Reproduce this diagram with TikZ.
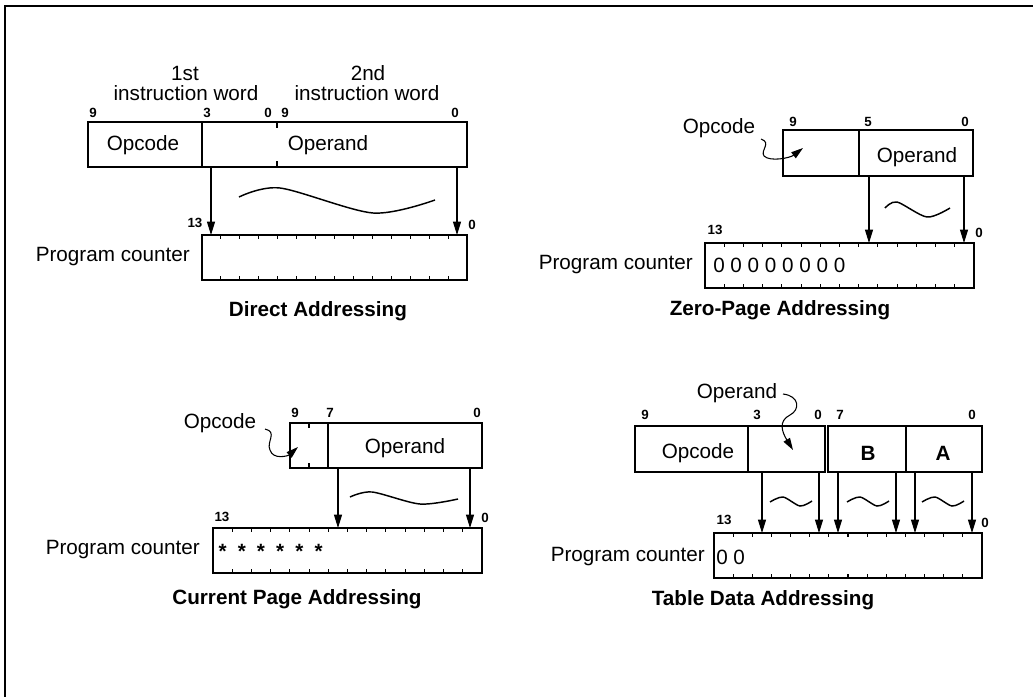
\documentclass[tikz,border=0pt]{standalone}
\usepackage{fontspec}
\setmainfont{Liberation Sans}
\usetikzlibrary{arrows.meta}

% 14-cell program counter register with tick marks
\newcommand{\pcreg}[3]{%
  \draw[reg] (#1,#2) rectangle (#3,#2+45);
  \foreach \k in {1,...,13}
    \draw[tick] ({#1+\k*(#3-#1)/14},#2) -- ++(0,4)
                ({#1+\k*(#3-#1)/14},#2+45) -- ++(0,-4);
}

\begin{document}
\begin{tikzpicture}[
  x=0.75pt, y=-0.75pt,
  txt/.style={inner sep=0pt,font=\fontsize{15.5}{18}\selectfont},
  bit/.style={inner sep=0pt,font=\fontsize{10}{11}\selectfont\bfseries},
  ttl/.style={inner sep=0pt,font=\fontsize{15.5}{18}\selectfont\bfseries},
  reg/.style={draw,line width=1.5pt},
  tick/.style={line width=0.8pt},
  arr/.style={-{Triangle[length=10pt,width=6pt]},line width=0.8pt},
  ptr/.style={-{Triangle[length=9pt,width=5.5pt]},line width=0.8pt},
  wave/.style={line width=1.1pt}
]
\useasboundingbox (0,0) rectangle (1033,697);
\draw[line width=1.5pt] (5,697) -- (5,6) -- (1033,6);

% Direct Addressing
\node[txt] (w1) at (185,73) {1st};
\node[txt] (w1b) at (186,93) {instruction word};
\node[txt] (w2) at (368,73) {2nd};
\node[txt] (w2b) at (367,93) {instruction word};
\foreach \x/\b [count=\i] in {93/9,207/3,268/0,285/9,455/0}
  \node[bit] (da\i) at (\x,113) {\b};
\draw[reg] (88,122) rectangle (467,167);
\draw[reg] (202,122) -- (202,167);
\draw[tick] (277,122) -- ++(0,6) (277,167) -- ++(0,-6);
\node[txt] (op1) at (143,145) {Opcode};
\node[txt] (od1) at (328,145) {Operand};
\pcreg{202}{235}{467}
\node[bit] (dh1) at (195,223) {13};
\node[bit] (dl1) at (472,225) {0};
\node[txt,anchor=east] (pc1) at (190,257) {Program counter};
\foreach \x [count=\i] in {211,457} {
  \coordinate (da\i) at (\x,167);
  \coordinate (db\i) at (\x,235);
  \draw[arr] (da\i) -- (db\i);
}
\draw[wave] plot[smooth] coordinates {(239,197) (280,188) (373,213) (435,200)};
\node[ttl] (t1) at (318,311) {Direct Addressing};

% Zero-Page Addressing
\node[txt] (op2) at (719,128) {Opcode};
\foreach \x/\b [count=\i] in {793/9,868/5,965/0}
  \node[bit] (za\i) at (\x,122) {\b};
\draw[reg] (783,130) rectangle (973,176);
\draw[reg] (859,130) -- (859,176);
\node[txt] (od2) at (917,157) {Operand};
\coordinate (zp) at (761,139);
\coordinate (zq) at (803,148);
\draw[ptr] (zp) .. controls (772,143) and (760,150) .. (764,156)
  .. controls (770,162) and (790,158) .. (zq);
\pcreg{705}{243}{974}
\node[bit] (zh) at (715,230) {13};
\node[bit] (zl) at (979,233) {0};
\node[txt,anchor=east] (pc2) at (693,265) {Program counter};
\node[txt,anchor=west] (zz) at (713,265) {0 0 0 0 0 0 0 0};
\foreach \x [count=\i] in {869,964} {
  \coordinate (za\i) at (\x,176);
  \coordinate (zb\i) at (\x,243);
  \draw[arr] (za\i) -- (zb\i);
}
\draw[wave] plot[smooth] coordinates {(885,208) (897,202) (927,217) (950,208)};
\node[ttl] (t2) at (780,310) {Zero-Page Addressing};

% Current Page Addressing
\node[txt] (op3) at (220,423) {Opcode};
\foreach \x/\b [count=\i] in {295/9,330/7,477/0}
  \node[bit] (ca\i) at (\x,413) {\b};
\draw[reg] (290,423) rectangle (482,468);
\draw[reg] (328,423) -- (328,468);
\draw[tick] (309,423) -- ++(0,5) (309,468) -- ++(0,-5);
\node[txt] (od3) at (405,448) {Operand};
\coordinate (cp) at (265,429);
\coordinate (cq) at (298,447);
\draw[ptr] (cp) .. controls (278,432) and (266,442) .. (270,450)
  .. controls (273,460) and (288,456) .. (cq);
\pcreg{213}{528}{482}
\node[bit] (ch) at (222,517) {13};
\node[bit] (cl) at (485,518) {0};
\node[txt,anchor=east] (pc3) at (200,550) {Program counter};
\foreach \i in {0,...,5}
  \node[txt,font=\fontsize{15.5}{18}\selectfont\bfseries,anchor=base] (st\i) at ({213+19.2*(\i+0.5)},558) {*};
\foreach \x [count=\i] in {338,470} {
  \coordinate (ca\i) at (\x,468);
  \coordinate (cb\i) at (\x,528);
  \draw[arr] (ca\i) -- (cb\i);
}
\draw[wave] plot[smooth] coordinates {(350,497) (372,492) (420,504) (458,499)};
\node[ttl] (t3) at (297,599) {Current Page Addressing};

% Table Data Addressing
\node[txt] (od4) at (737,393) {Operand};
\foreach \x/\b [count=\i] in {645/9,757/3,818/0,840/7,972/0}
  \node[bit] (ta\i) at (\x,415) {\b};
\draw[reg] (635,426) rectangle (825,472);
\draw[reg] (748,426) -- (748,472);
\draw[reg] (828,426) rectangle (982,472);
\draw[reg] (906,426) -- (906,472);
\node[txt] (op4) at (698,453) {Opcode};
\node[txt,font=\fontsize{15.5}{18}\selectfont\bfseries] (rb) at (868,453) {B};
\node[txt,font=\fontsize{15.5}{18}\selectfont\bfseries] (ra) at (943,453) {A};
\coordinate (tp) at (783,394);
\coordinate (tq) at (793,450);
\draw[ptr] (tp) .. controls (800,396) and (800,410) .. (790,415)
  .. controls (778,421) and (782,432) .. (tq);
\pcreg{714}{533}{982}
\node[bit] (th) at (724,520) {13};
\node[bit] (tl) at (985,523) {0};
\node[txt,anchor=east] (pc4) at (705,557) {Program counter};
\node[txt,anchor=west] (tz) at (716,557) {0 0};
\foreach \x [count=\i] in {762,819,838,896,915,972} {
  \coordinate (ta\i) at (\x,472);
  \coordinate (tb\i) at (\x,533);
  \draw[arr] (ta\i) -- (tb\i);
}
\foreach \d in {0,77,152}
  \draw[wave] plot[smooth] coordinates {(770+\d,502) (783+\d,497) (800+\d,506) (812+\d,501)};
\node[ttl] (t4) at (763,600) {Table Data Addressing};
\end{tikzpicture}
\end{document}
